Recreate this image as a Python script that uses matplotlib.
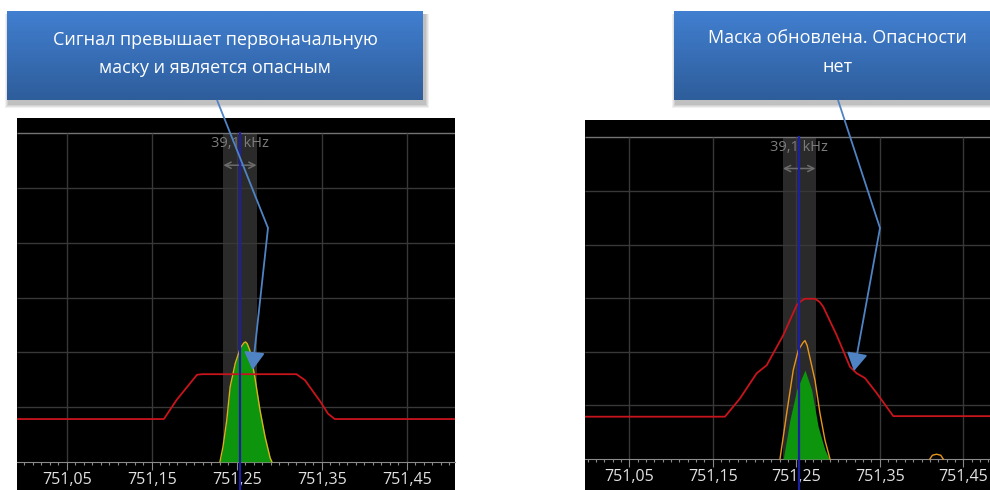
import numpy as np
import matplotlib
matplotlib.use("Agg")
import matplotlib.pyplot as plt
from matplotlib.patches import Rectangle
from matplotlib.ticker import FixedLocator, MultipleLocator, FuncFormatter

# ---------------------------------------------------------------------------
# data (MHz / grid divisions)
# ---------------------------------------------------------------------------
tick_freqs = [751.05, 751.15, 751.25, 751.35, 751.45]
band_center = 751.2535
band_width_khz = 39.1
band_label = "39,1 kHz"

# left screen: initial mask + signal
mask_left_f = [750.99, 751.164, 751.179, 751.203, 751.209, 751.320, 751.330,
               751.348, 751.357, 751.365, 751.51]
mask_left_v = [0.78, 0.78, 1.13, 1.59, 1.60, 1.60, 1.49, 1.10, 0.88, 0.78, 0.78]
sig_left_f = [751.230, 751.2335, 751.238, 751.242, 751.248, 751.254, 751.258,
              751.260, 751.262, 751.265, 751.271, 751.277, 751.283, 751.289, 751.291]
sig_left_v = [0, 0.27, 0.76, 1.37, 1.80, 2.08, 2.17, 2.19, 2.16, 2.04, 1.55,
              0.95, 0.46, 0.07, 0]

# right screen: updated mask, max-hold trace and live signal
mask_right_f = [750.99, 751.1646, 751.1826, 751.2026, 751.2146, 751.2344,
                751.2505, 751.2560, 751.2604, 751.2724, 751.2780, 751.2823,
                751.2984, 751.3143, 751.3223, 751.3323, 751.3463, 751.3662, 751.49]
mask_right_v = [0.79, 0.79, 1.13, 1.60, 1.75, 2.31, 2.87, 2.95, 2.99, 2.99,
                2.93, 2.84, 2.31, 1.72, 1.60, 1.51, 1.23, 0.80, 0.80]
peak_right_f = [751.2305, 751.2385, 751.2464, 751.2524, 751.2580, 751.2604,
                751.2630, 751.2724, 751.2784, 751.2844, 751.2904]
peak_right_v = [0, 0.85, 1.66, 2.03, 2.17, 2.21, 2.12, 1.47, 0.85, 0.35, 0]
sig_right_f = [751.2344, 751.2424, 751.2505, 751.2604, 751.2684, 751.2763,
               751.2844, 751.2895]
sig_right_v = [0, 0.73, 1.29, 1.66, 1.29, 0.60, 0.17, 0]
spur_right_f = [751.410, 751.413, 751.418, 751.423, 751.426]
spur_right_v = [0, 0.07, 0.09, 0.07, 0]

note_left = ["Сигнал превышает первоначальную", "маску и является опасным"]
note_right = ["Маска обновлена. Опасности", "нет"]

W, H = 990, 490
FONT = ["Open Sans", "DejaVu Sans"]


def draw_panel(ax, xlim, ylim):
    ax.set_facecolor("black")
    ax.set_xlim(*xlim)
    ax.set_ylim(*ylim)
    for s in ["top", "right", "left"]:
        ax.spines[s].set_visible(False)
    ax.spines["bottom"].set_position(("data", 0))
    ax.spines["bottom"].set_color("#8a8a8a")
    ax.spines["bottom"].set_zorder(1.6)
    ax.yaxis.set_visible(False)

    ax.xaxis.set_major_locator(FixedLocator(tick_freqs))
    ax.xaxis.set_minor_locator(MultipleLocator(0.01))
    ax.xaxis.set_major_formatter(FuncFormatter(lambda v, p: f"{v:.2f}".replace(".", ",")))
    ax.tick_params(axis="x", which="major", length=5.5, width=0.8, color="#8a8a8a",
                   labelcolor="#e2e2e2", labelsize=11.5, pad=2)
    ax.tick_params(axis="x", which="minor", length=2.5, width=0.8, color="#8a8a8a")
    for lab in ax.get_xticklabels():
        lab.set_family(FONT)

    # grid
    ax.hlines(range(1, 6), xlim[0], xlim[1], color="#383838", lw=1, zorder=1.2)
    ax.hlines(6, xlim[0], xlim[1], color="#737373", lw=1, zorder=1.2)
    ax.vlines(tick_freqs, 0, 6, color="#383838", lw=1, zorder=1.2)

    # channel band with width marker
    bw = band_width_khz / 1000.0
    ax.bar(band_center, 6, width=bw, bottom=0, color="#ffffff", alpha=0.17,
           zorder=1.1, linewidth=0)
    ax.text(band_center, 5.81, band_label, ha="center", va="center",
            color="#7c7c7c", fontsize=10.5, family=FONT, zorder=2)
    ax.annotate("", xy=(band_center - bw / 2, 5.42), xytext=(band_center + bw / 2, 5.42),
                arrowprops=dict(arrowstyle="<->", color="#6c6c6c", lw=1.1,
                                mutation_scale=11, shrinkA=0, shrinkB=0), zorder=2)


fig = plt.figure(figsize=(W / 100, H / 100), dpi=100)
fig.patch.set_facecolor("white")

axL = fig.add_axes([17 / W, 0, 438 / W, 372 / H])
draw_panel(axL, (750.9912, 751.5065), (-0.517, 6.283))
axL.fill_between(sig_left_f, 0, sig_left_v, color="#0e950e", lw=0, zorder=2.5)
axL.plot(sig_left_f, sig_left_v, color="#d9b21c", lw=1, zorder=2.6)
axL.plot(mask_left_f, mask_left_v, color="#c8141c", lw=1.3, zorder=3)
axL.plot([band_center, band_center], [-0.517, 6], color="#1e1ea0", lw=1.6, zorder=4)

axR = fig.add_axes([585 / W, 0, 405 / W, 370 / H])
draw_panel(axR, (750.997, 751.482), (-0.578, 6.325))
axR.fill_between(sig_right_f, 0, sig_right_v, color="#0e950e", lw=0, zorder=2.5)
axR.plot(peak_right_f, peak_right_v, color="#e8951e", lw=1, zorder=2.6)
axR.plot(spur_right_f, spur_right_v, color="#e8951e", lw=1, zorder=2.6)
axR.plot(mask_right_f, mask_right_v, color="#c8141c", lw=1.3, zorder=3)
axR.plot([band_center, band_center], [-0.578, 6], color="#1e1ea0", lw=1.6, zorder=4)

# ---------------------------------------------------------------------------
# callouts drawn in figure pixel space
# ---------------------------------------------------------------------------
ov = fig.add_axes([0, 0, 1, 1], zorder=10)
ov.set_xlim(0, W)
ov.set_ylim(H, 0)
ov.axis("off")

grad = np.linspace(0, 1, 64)[:, None]
top = np.array([0x41, 0x7f, 0xd0]) / 255
bot = np.array([0x2e, 0x5d, 0x9b]) / 255
grad_img = (top[None, None, :] * (1 - grad[:, :, None]) + bot[None, None, :] * grad[:, :, None])


def callout(x0, x1, y0, y1, lines, cx, ys, path):
    # soft shadow
    for k, a in enumerate([0.06, 0.06, 0.07, 0.08]):
        d = 4 - k
        ov.add_patch(Rectangle((x0 - d + 2, y0 + 2), x1 - x0 + 2 * d, y1 - y0 + d + 2,
                               facecolor="#000000", alpha=a, lw=0, zorder=1))
    ov.imshow(grad_img, extent=(x0, x1, y1, y0), aspect="auto", zorder=2,
              interpolation="bilinear")
    for t, y in zip(lines, ys):
        ov.text(cx, y, t, ha="center", va="center", color="white", fontsize=13,
                family=FONT, zorder=3)
    (px0, py0), (px1, py1), (px2, py2) = path
    ov.plot([px0, px1], [py0, py1], color="#4f83c4", lw=1.3, zorder=3,
            solid_capstyle="butt")
    ov.annotate("", xy=(px2, py2), xytext=(px1, py1),
                arrowprops=dict(arrowstyle="-|>,head_length=0.55,head_width=0.32",
                                color="#4f83c4", lw=1.3, mutation_scale=20,
                                shrinkA=0, shrinkB=0), zorder=3)


callout(7, 423, 12, 100, note_left, 215, [40, 68],
        [(217, 100), (268, 228), (252.5, 370)])
callout(674, 1002, 12, 100, note_right, 838, [38, 67],
        [(838, 100), (880, 228), (854, 371)])
ov.set_xlim(0, W)
ov.set_ylim(H, 0)

fig.savefig("out.png", dpi=100, facecolor=fig.get_facecolor())
